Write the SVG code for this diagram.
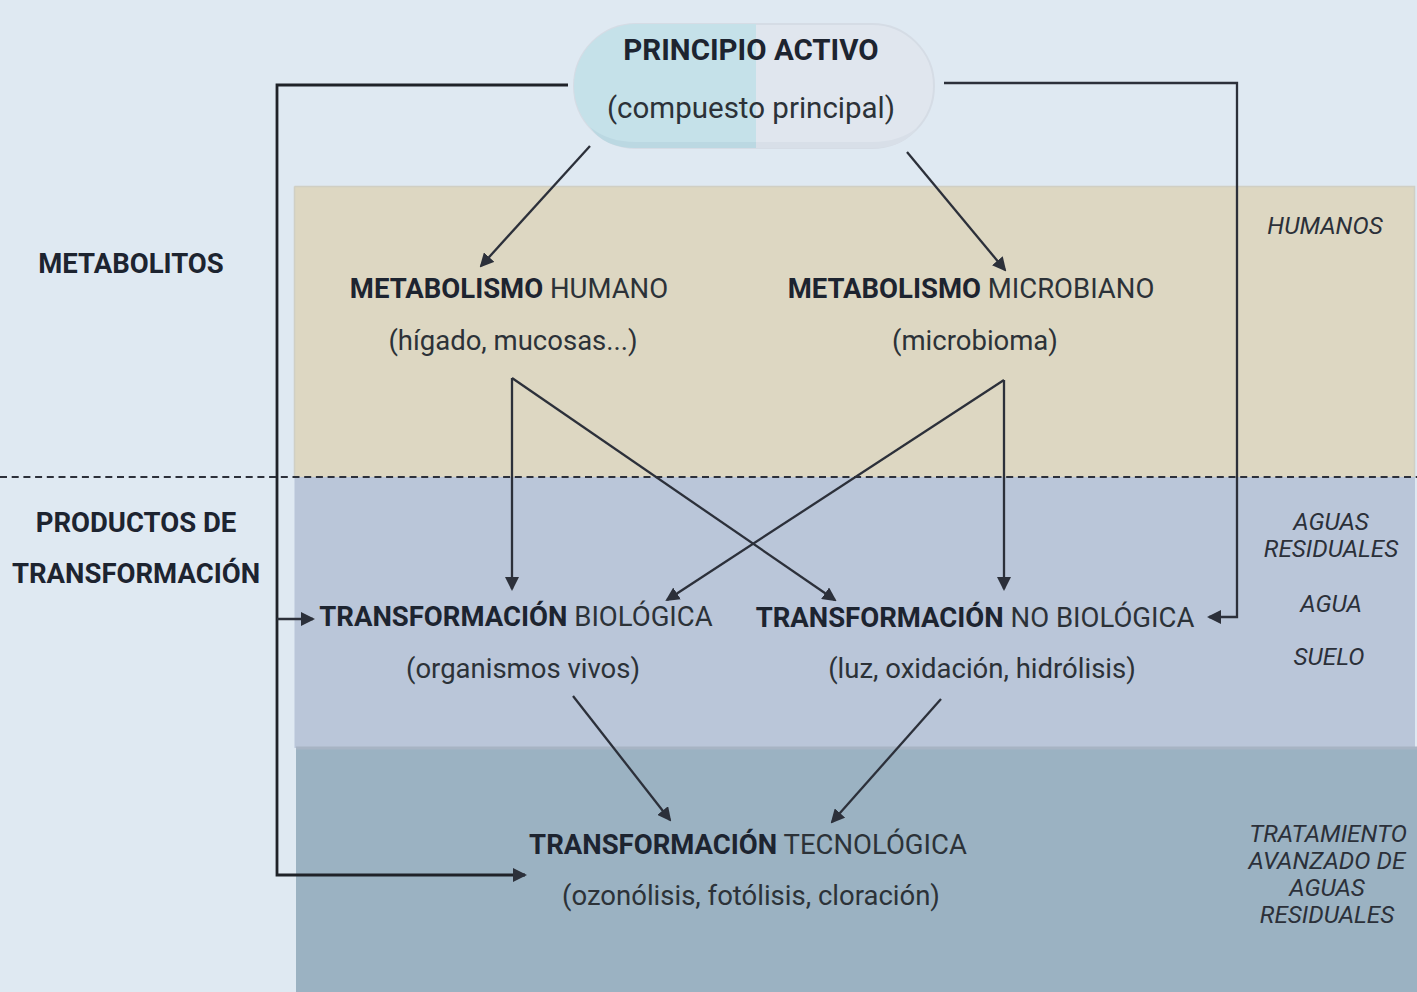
<svg xmlns="http://www.w3.org/2000/svg" width="1417" height="992" viewBox="0 0 1417 992">
<style>
text{font-family:Roboto,"Liberation Sans",sans-serif;fill:#2c3238;text-anchor:middle;font-size:27.5px}
.b{font-weight:700;fill:#1d2430}
.i{font-style:italic;font-size:24.3px;fill:#2b3039}
.c{fill:none;stroke:#2c303a;stroke-width:2.3}
</style>
<defs>
<marker id="a" viewBox="0 0 14 14" refX="12" refY="7" markerWidth="14" markerHeight="14" markerUnits="userSpaceOnUse" orient="auto"><path d="M0 0L14 7L0 14z" fill="#2c303a"/></marker>
</defs>
<rect width="1417" height="992" fill="#dfe9f2"/>
<g id="bands">
<rect x="294.500" y="186" width="1120" height="291" fill="#ddd7c2"/>
<path d="M294.500 186.500H1414.500V477M294.500 186.500V477" fill="none" stroke="#d0cfc4" stroke-width="1.500"/>
<rect x="294.500" y="477" width="1120.500" height="271" fill="#bac6d9"/>
<rect x="296" y="748" width="1121" height="244" fill="#9bb2c2"/>
<path d="M296 748H1417" stroke="#a7b4c4" stroke-width="3"/>
</g>
<g id="connectors">
<path class="c" style="stroke:#1f2228;stroke-width:2.800" d="M568 85H277V875H525" marker-end="url(#a)"/>
<path class="c" d="M277 619H313" marker-end="url(#a)"/>
<path class="c" d="M944 83H1237V617H1209" marker-end="url(#a)"/>
<path class="c" d="M590 146L481 266" marker-end="url(#a)"/>
<path class="c" d="M907 152L1005 270" marker-end="url(#a)"/>
<path class="c" d="M512 378V589" marker-end="url(#a)"/>
<path class="c" d="M512 378L835 600" marker-end="url(#a)"/>
<path class="c" d="M1004 380L667 600" marker-end="url(#a)"/>
<path class="c" d="M1004 380V589" marker-end="url(#a)"/>
<path class="c" d="M573 696L670 820" marker-end="url(#a)"/>
<path class="c" d="M941 699L832 822" marker-end="url(#a)"/>
<path d="M0 477H1417" fill="none" stroke="#2c303a" stroke-width="2.200" stroke-dasharray="7 4.700"/>
</g>
<g id="principio">
<rect x="574" y="24" width="360" height="124" rx="62" fill="#e0e6ee" stroke="#d5dce5" stroke-width="2"/>
<path d="M756 24H636a62 62 0 0 0 0 124H756z" fill="#c5e1e9"/>
<path d="M590 127Q608 142 636 142H756V148H636Q604 148 590 127z" fill="#bbd8e2"/>
<path d="M918 127Q900 142 872 142H756V148H872Q904 148 918 127z" fill="#d8dfe8"/>
<text x="751" y="60" class="b" style="font-size:29.500px">PRINCIPIO ACTIVO</text>
<text x="751" y="118" style="font-size:29.500px">(compuesto principal)</text>
</g>
<g id="metabolitos"><text x="131" y="273" class="b">METABOLITOS</text></g>
<g id="productos"><text x="136" y="532" class="b">PRODUCTOS DE</text><text x="136" y="583" class="b">TRANSFORMACIÓN</text></g>
<g id="humano"><text x="509" y="298"><tspan class="b">METABOLISMO</tspan> HUMANO</text><text x="513" y="350">(hígado, mucosas...)</text></g>
<g id="microbiano"><text x="971" y="298"><tspan class="b">METABOLISMO</tspan> MICROBIANO</text><text x="975" y="350">(microbioma)</text></g>
<g id="biologica"><text x="516" y="626"><tspan class="b">TRANSFORMACIÓN</tspan> BIOLÓGICA</text><text x="523" y="678">(organismos vivos)</text></g>
<g id="nobiologica"><text x="975" y="627"><tspan class="b">TRANSFORMACIÓN</tspan> NO BIOLÓGICA</text><text x="982" y="678">(luz, oxidación, hidrólisis)</text></g>
<g id="tecnologica"><text x="748" y="854"><tspan class="b">TRANSFORMACIÓN</tspan> TECNOLÓGICA</text><text x="751" y="905">(ozonólisis, fotólisis, cloración)</text></g>
<g id="ambitos">
<text x="1325" y="234" class="i">HUMANOS</text>
<text x="1331" y="530" class="i">AGUAS</text>
<text x="1331" y="557" class="i">RESIDUALES</text>
<text x="1331" y="612" class="i">AGUA</text>
<text x="1329" y="665" class="i">SUELO</text>
<text x="1328" y="842" class="i">TRATAMIENTO</text>
<text x="1327" y="869" class="i">AVANZADO DE</text>
<text x="1327" y="896" class="i">AGUAS</text>
<text x="1327" y="923" class="i">RESIDUALES</text>
</g>
</svg>
